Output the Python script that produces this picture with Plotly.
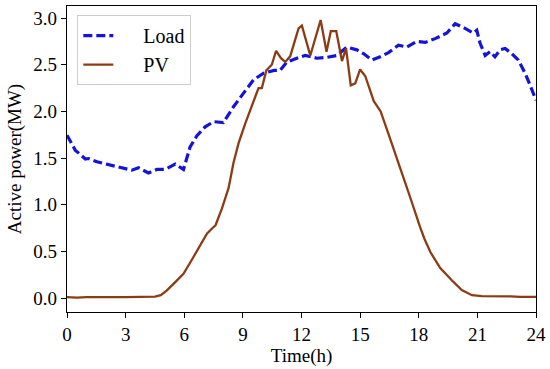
import plotly.graph_objects as go

# Load curve (MW) vs time (h)
load_time = [0.0, 0.42, 0.94, 1.1, 1.53, 1.96, 2.38, 2.9, 3.32, 3.66, 4.17, 4.6, 5.03, 5.54, 5.96,
             6.3, 6.65, 7.07, 7.5, 8.0, 8.52, 9.12, 9.55, 10.06, 10.6, 10.9, 11.25, 11.76, 12.19,
             12.79, 13.3, 13.81, 14.32, 14.83, 15.17, 15.6, 16.03, 16.45, 16.96, 17.39, 17.9,
             18.33, 18.84, 19.44, 19.86, 20.37, 20.8, 20.97, 21.14, 21.4, 21.65, 21.9, 22.16,
             22.42, 22.76, 23.1, 23.44, 23.7, 24.0]
load_mw = [1.745, 1.585, 1.49, 1.495, 1.46, 1.44, 1.42, 1.39, 1.37, 1.395, 1.34, 1.378, 1.38, 1.435, 1.378,
           1.62, 1.74, 1.835, 1.89, 1.88, 2.05, 2.22, 2.34, 2.41, 2.44, 2.44, 2.53, 2.57, 2.60,
           2.57, 2.58, 2.60, 2.69, 2.66, 2.62, 2.55, 2.585, 2.63, 2.71, 2.69, 2.75,
           2.74, 2.78, 2.84, 2.94, 2.89, 2.84, 2.87, 2.73, 2.60, 2.64, 2.585, 2.66,
           2.675, 2.62, 2.55, 2.41, 2.28, 2.12]

# PV curve (MW) vs time (h)
pv_time = [0.0, 0.5, 1.0, 1.5, 2.0, 2.5, 3.0, 3.5, 4.0, 4.5, 4.8, 5.1, 5.54, 5.96, 6.39, 6.82, 7.16,
           7.42, 7.6, 7.93, 8.27, 8.52, 8.78, 9.12, 9.55, 9.8, 9.97, 10.2, 10.48, 10.7, 10.95,
           11.17, 11.42, 11.85, 12.02, 12.45, 12.98, 13.28, 13.5, 13.78, 14.07, 14.28, 14.52,
           14.75, 15.0, 15.26, 15.7, 16.05, 16.45, 16.96, 17.3, 17.56, 17.82, 18.07, 18.3, 18.6,
           19.1, 19.4, 19.69, 20.2, 20.72, 21.23, 21.7, 22.2, 22.7, 23.2, 23.6, 24.0]
pv_mw = [0.01, 0.005, 0.01, 0.008, 0.012, 0.01, 0.01, 0.012, 0.008, 0.015, 0.03, 0.08, 0.17, 0.26, 0.41,
         0.565, 0.69, 0.745, 0.78, 0.96, 1.18, 1.45, 1.66, 1.87, 2.10, 2.25, 2.25, 2.44, 2.50, 2.65,
         2.57, 2.53, 2.59, 2.89, 2.92, 2.60, 2.98, 2.64, 2.86, 2.86, 2.54, 2.675, 2.28,
         2.30, 2.45, 2.38, 2.11, 2.00, 1.76, 1.46, 1.24, 1.08, 0.91, 0.76, 0.63, 0.49,
         0.32, 0.25, 0.19, 0.085, 0.03, 0.02, 0.02, 0.022, 0.018, 0.012, 0.01, 0.012]

x_ticks = [0, 3, 6, 9, 12, 15, 18, 21, 24]
y_ticks = [0.0, 0.5, 1.0, 1.5, 2.0, 2.5, 3.0]
series_names = ["Load", "PV"]

FONT = "Liberation Serif"
PAD = "\u00a0" * 5

fig = go.Figure()
fig.add_trace(go.Scatter(x=load_time, y=load_mw, mode="lines", name=PAD + series_names[0],
                         line=dict(color="#1414d8", width=3.2, dash="9px,4px")))
fig.add_trace(go.Scatter(x=pv_time, y=pv_mw, mode="lines", name=PAD + series_names[1],
                         line=dict(color="#8c3c14", width=2.3)))

axis_common = dict(showline=True, linecolor="black", linewidth=1.2, mirror=True,
                   ticks="outside", ticklen=5, tickcolor="black", tickwidth=1.2,
                   showgrid=False, zeroline=False, automargin=False,
                   tickfont=dict(family=FONT, size=19, color="black"))

fig.update_xaxes(range=[0, 24], tickvals=x_ticks, ticktext=[str(v) for v in x_ticks],
                 title=dict(text="Time(h)", font=dict(family=FONT, size=19, color="black"), standoff=2),
                 **axis_common)
fig.update_yaxes(range=[-0.15, 3.13], tickvals=y_ticks, ticktext=[f"{v:.1f}" for v in y_ticks],
                 title=dict(text="Active power(MW)", font=dict(family=FONT, size=19, color="black"), standoff=6),
                 **axis_common)

fig.update_layout(
    width=550, height=369,
    margin=dict(l=67, r=14, t=6, b=57),
    plot_bgcolor="white", paper_bgcolor="white",
    showlegend=True,
    legend=dict(x=0.022, y=0.97, xanchor="left", yanchor="top",
                bgcolor="rgba(255,255,255,0.9)", bordercolor="#cccccc", borderwidth=1,
                font=dict(family=FONT, size=20, color="black"), tracegroupgap=2),
)

fig.write_html("out.html", config={"displayModeBar": False},
               post_script="document.body.style.margin='0';document.body.style.overflow='hidden';")
